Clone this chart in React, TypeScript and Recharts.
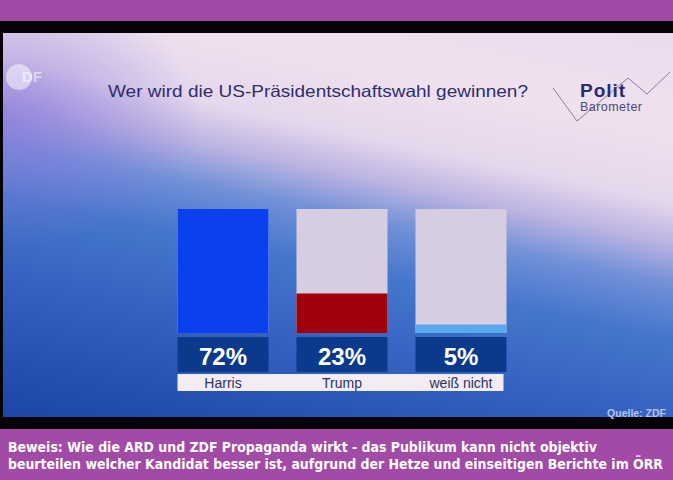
import { BarChart, Bar, XAxis, YAxis, Cell } from "recharts";

const categories = ["Harris", "Trump", "weiß nicht"];
const shares = [72, 23, 5];

const title = "Wer wird die US-Präsidentschaftswahl gewinnen?";
const source = "Quelle: ZDF";
const captionLines = [
  "Beweis: Wie die ARD und ZDF Propaganda wirkt - das Publikum kann nicht objektiv",
  "beurteilen welcher Kandidat besser ist, aufgrund der Hetze und einseitigen Berichte im ÖRR",
];

const barColors = ["#0a40ee", "#a0000c", "#5aa8ee"];
const BAR_W = 91;

const data = categories.map((name, i) => ({ name, value: shares[i] }));

function ShareTick(props: any) {
  const { x, y, payload, index } = props;
  const half = 60.5;
  const left = index === 0 ? x - BAR_W / 2 : x - half;
  const right = index === categories.length - 1 ? x + BAR_W / 2 - 3 : x + half;
  return (
    <g>
      <rect x={x - BAR_W / 2} y={y + 4} width={BAR_W} height={35} fill="#0b3a8c" />
      <text x={x} y={y + 32} textAnchor="middle" fill="#ffffff" fontSize={24} fontWeight="bold"
        fontFamily="Liberation Sans, Arial, sans-serif">
        {shares[index]}%
      </text>
      <rect x={left} y={y + 41} width={right - left} height={17} fill="#f3edf3" />
      <text x={x} y={y + 55} textAnchor="middle" fill="#2a3264" fontSize={14}
        fontFamily="Liberation Sans, Arial, sans-serif">
        {payload.value}
      </text>
    </g>
  );
}

export default function App() {
  return (
    <div style={{ width: 673, height: 480, position: "relative", background: "#a24ba6", overflow: "hidden",
      fontFamily: "Liberation Sans, Arial, sans-serif" }}>
      <style>{`body{margin:0}`}</style>
      <div style={{ position: "absolute", left: 0, top: 21, width: 673, height: 408, background: "#050308" }} />
      <div style={{ position: "absolute", left: 3, top: 33, width: 670, height: 384,
        background: "radial-gradient(ellipse 200px 130px at 0% 22%, rgba(140,120,220,0.7), rgba(140,120,220,0) 100%), linear-gradient(192deg, #eadcee 0%, #efe1ee 18%, #e6d8ec 32%, #bcb4e2 40%, #7090d8 48%, #4676cc 58%, #3764c2 72%, #2854b6 86%, #1c45a6 100%)" }} />

      {/* ZDF mark */}
      <div style={{ position: "absolute", left: 6, top: 64, width: 26, height: 26, borderRadius: 13,
        background: "rgba(255,255,255,0.5)" }} />
      <div style={{ position: "absolute", left: 22, top: 68, fontSize: 15, fontWeight: "bold",
        color: "rgba(255,255,255,0.55)" }}>DF</div>

      <svg width={673} height={480} style={{ position: "absolute", left: 0, top: 0 }}>
        <text x={108} y={97} fontSize={16.5} fill="#2e2e6c" textLength={420} lengthAdjust="spacingAndGlyphs">
          {title}
        </text>
        {/* Politbarometer mark */}
        <polyline points="553,88 577,121 628,78 647,94 670,72" fill="none" stroke="#8c7c96" strokeWidth={1} />
        <text x={580} y={97} fontSize={19} fontWeight="bold" fill="#2a2a72" textLength={45}>Polit</text>
        <text x={580} y={111} fontSize={12.5} fill="#4a4a78" textLength={62}>Barometer</text>
        <text x={666} y={417} textAnchor="end" fontSize={10.5} fontWeight="bold" fill="#b4c2f2">{source}</text>
        {captionLines.map((l, i) => (
          <text key={l} x={8} y={452 + i * 17} fontSize={13.5} fontWeight="bold" fill="#ffffff"
            fontFamily="DejaVu Sans Condensed, DejaVu Sans, sans-serif"
            textLength={i === 0 ? 589 : 655} lengthAdjust="spacingAndGlyphs">
            {l}
          </text>
        ))}
      </svg>

      <div style={{ position: "absolute", left: 0, top: 0 }}>
        <BarChart width={673} height={480} data={data} barCategoryGap={28}
          margin={{ top: 209, right: 152.5, bottom: 87, left: 163.5 }}>
          <YAxis hide domain={[0, "dataMax"]} />
          <XAxis dataKey="name" height={60} axisLine={false} tickLine={false} tickSize={0} tickMargin={0}
            interval={0} tick={<ShareTick />} />
          <Bar dataKey="value" barSize={BAR_W} isAnimationActive={false} background={{ fill: "#d6cee0" }}>
            {data.map((d, i) => (
              <Cell key={d.name} fill={barColors[i]} />
            ))}
          </Bar>
        </BarChart>
      </div>
    </div>
  );
}
